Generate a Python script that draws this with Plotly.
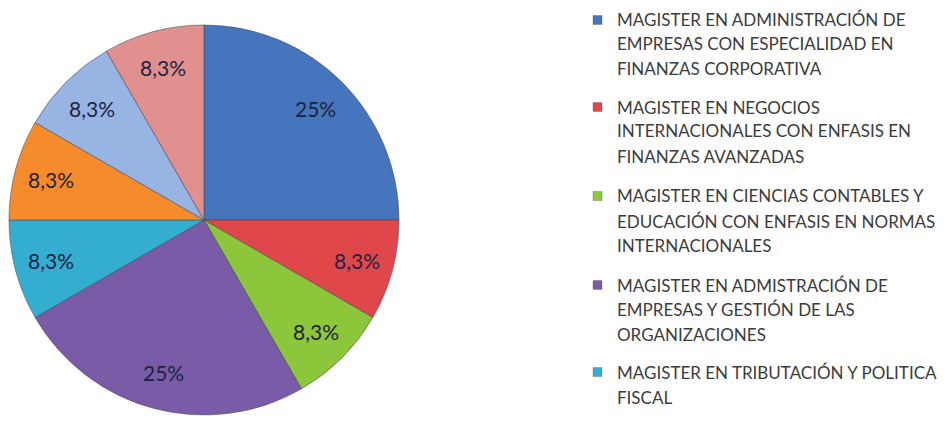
import math
import plotly.graph_objects as go

# ---- data ----
programas = [
    "MAGISTER EN ADMINISTRACIÓN DE\nEMPRESAS CON ESPECIALIDAD EN\nFINANZAS CORPORATIVA",
    "MAGISTER EN NEGOCIOS\nINTERNACIONALES CON ENFASIS EN\nFINANZAS AVANZADAS",
    "MAGISTER EN CIENCIAS CONTABLES Y\nEDUCACIÓN CON ENFASIS EN NORMAS\nINTERNACIONALES",
    "MAGISTER EN ADMISTRACIÓN DE\nEMPRESAS Y GESTIÓN DE LAS\nORGANIZACIONES",
    "MAGISTER EN TRIBUTACIÓN Y POLITICA\nFISCAL",
    "PROGRAMA 6",
    "PROGRAMA 7",
    "PROGRAMA 8",
]
valores = [3, 1, 1, 3, 1, 1, 1, 1]
colores = ["#4475bd", "#e0474a", "#8cc63a", "#7a5ba8", "#33aed0", "#f68b2c", "#97b4e2", "#e0908f"]
n_leyenda = 5  # visible legend entries

total = sum(valores)
def fmt(v):
    p = v / total * 100
    s = f"{p:.1f}"
    if s.endswith(".0"):
        s = s[:-2]
    return s.replace(".", ",") + "%"
textos = [fmt(v) for v in valores]

W, H = 951, 421
OFF = 8  # page body margin
CX, CY, R = 204 - OFF, 220 - OFF, 195

fig = go.Figure()
fig.add_trace(go.Pie(
    labels=[p.replace("\n", " ") for p in programas],
    values=valores,
    textinfo="none",
    sort=False,
    direction="clockwise",
    rotation=0,
    marker=dict(colors=colores, line=dict(color="rgba(70,70,90,0.55)", width=1)),
    domain=dict(x=[(CX - R) / W, (CX + R) / W], y=[1 - (CY + R) / H, 1 - (CY - R) / H]),
    showlegend=False,
    hoverinfo="label+percent",
))

annotations = []
# slice labels at ~0.81 of radius along each slice's mid-angle (derived from values)
acc = 0
for v, t in zip(valores, textos):
    mid = (acc + v / 2) / total * 2 * math.pi
    acc += v
    px = CX + 0.81 * R * math.sin(mid)
    py = CY - 0.81 * R * math.cos(mid)
    annotations.append(dict(
        x=px / W, y=1 - py / H, xref="paper", yref="paper", text=t, showarrow=False,
        xanchor="center", yanchor="middle",
        font=dict(family="Lato", size=21, color="#1c2340"),
    ))

# manual legend (only first entries visible in reference)
line_y = [[20, 44, 68], [107, 131, 156], [196, 221, 245], [285, 309, 334], [372, 397]]
shapes = []
for i in range(n_leyenda):
    lines = programas[i].split("\n")
    for j, ln in enumerate(lines):
        y = line_y[i][j] - OFF
        annotations.append(dict(
            x=(617 - OFF - 2) / W, y=1 - y / H, xref="paper", yref="paper",
            text=ln, showarrow=False, xanchor="left", yanchor="middle",
            font=dict(family="Lato", size=17, color="#3c3c3c"),
        ))
    y0 = line_y[i][0] - OFF
    shapes.append(dict(
        type="rect", xref="paper", yref="paper",
        x0=(593 - OFF) / W, x1=(602 - OFF) / W, y0=1 - (y0 - 4.5) / H, y1=1 - (y0 + 4.5) / H,
        fillcolor=colores[i], line=dict(color="rgba(80,80,80,0.6)", width=0.5),
    ))

fig.update_layout(
    width=W, height=H,
    margin=dict(l=0, r=0, t=0, b=0),
    paper_bgcolor="white", plot_bgcolor="white",
    annotations=annotations, shapes=shapes,
)
fig.write_html("out.html")
